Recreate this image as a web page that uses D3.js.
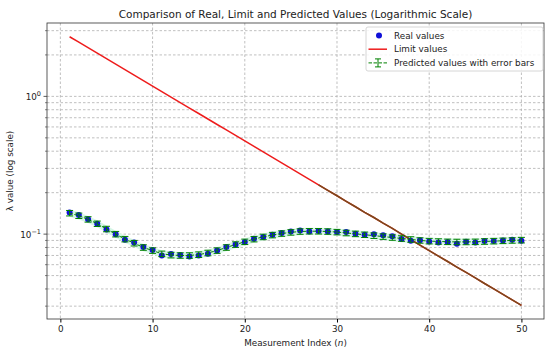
<!DOCTYPE html>
<html>
<head>
<meta charset="utf-8">
<script src="https://cdn.jsdelivr.net/npm/d3@7"></script>
<style>
  body { margin: 0; background: #fff; }
  svg text { font-family: "DejaVu Sans", sans-serif; fill: #222; }
</style>
</head>
<body>
<div id="chart"></div>
<script>
// measurement index n
var indices = d3.range(1, 51);

// real values
var realValues = [0.1438, 0.1377, 0.128, 0.119, 0.108, 0.100, 0.091, 0.087, 0.0805, 0.0767,
  0.070, 0.0717, 0.0705, 0.0689, 0.070, 0.0721, 0.0762, 0.0805, 0.0841, 0.0876,
  0.0926, 0.0952, 0.099, 0.102, 0.1047, 0.1064, 0.1047, 0.1053, 0.1047, 0.1035,
  0.1035, 0.1006, 0.099, 0.100, 0.0981, 0.0964, 0.0921, 0.0894, 0.0904, 0.0884,
  0.0870, 0.0876, 0.0853, 0.0880, 0.0870, 0.0890, 0.0890, 0.0900, 0.0910, 0.0894];

// limit values (straight line on log scale)
var limitValues = [2.71, 2.473, 2.256, 2.059, 1.878, 1.714, 1.564, 1.427, 1.302, 1.188,
  1.084, 0.989, 0.902, 0.823, 0.751, 0.685, 0.625, 0.571, 0.521, 0.475,
  0.433, 0.395, 0.361, 0.329, 0.300, 0.274, 0.250, 0.228, 0.208, 0.190,
  0.173, 0.158, 0.144, 0.132, 0.120, 0.110, 0.100, 0.0913, 0.0833, 0.0760,
  0.0693, 0.0633, 0.0577, 0.0527, 0.0481, 0.0438, 0.0400, 0.0365, 0.0333, 0.0304];

// predicted values and their errors
var predValues = [0.142, 0.136, 0.128, 0.119, 0.109, 0.100, 0.092, 0.086, 0.080, 0.076,
  0.072, 0.0705, 0.0700, 0.0700, 0.0710, 0.0730, 0.0760, 0.0800, 0.0840, 0.0880,
  0.0920, 0.0955, 0.0985, 0.101, 0.103, 0.1045, 0.105, 0.105, 0.1045, 0.1035,
  0.102, 0.1005, 0.099, 0.0975, 0.096, 0.0945, 0.093, 0.0915, 0.090, 0.089,
  0.0885, 0.088, 0.0878, 0.0878, 0.088, 0.0885, 0.089, 0.0895, 0.090, 0.0905];
var predErrors = [0.0065, 0.0062, 0.0058, 0.0054, 0.005, 0.0046, 0.0042, 0.004, 0.0037, 0.0035,
  0.0033, 0.0033, 0.0032, 0.0032, 0.0033, 0.0034, 0.0035, 0.0037, 0.0039, 0.004,
  0.0042, 0.0044, 0.0045, 0.0046, 0.0047, 0.0048, 0.0048, 0.0048, 0.0048, 0.0047,
  0.0047, 0.0046, 0.0045, 0.0045, 0.0044, 0.0043, 0.0043, 0.0042, 0.0041, 0.0041,
  0.004, 0.004, 0.004, 0.004, 0.004, 0.0041, 0.0041, 0.0041, 0.0041, 0.0042];

var xTicks = [0, 10, 20, 30, 40, 50];
var yMajor = [1, 0.1];
var yMinor = [0.03, 0.04, 0.05, 0.06, 0.07, 0.08, 0.09, 0.2, 0.3, 0.4, 0.5, 0.6, 0.7, 0.8, 0.9, 2, 3];
var brownFrom = 27; // index where the limit line turns brown

var W = 550, H = 354;
var margin = {top: 23, right: 6, bottom: 35, left: 47};

var svg = d3.select("#chart").append("svg")
  .attr("width", W).attr("height", H);

var x = d3.scaleLinear().domain([-1.45, 52.45]).range([margin.left, W - margin.right]);
var y = d3.scaleLog().domain([0.0242, 3.41]).range([H - margin.bottom, margin.top]);

var rows = indices.map(function(n, i) {
  return {n: n, real: realValues[i], limit: limitValues[i], pred: predValues[i], err: predErrors[i]};
});

// grid
var grid = svg.append("g").attr("stroke", "#b0b0b0").attr("stroke-width", 0.8)
  .attr("stroke-dasharray", "2.5,2");
xTicks.forEach(function(t) {
  grid.append("line").attr("x1", x(t)).attr("x2", x(t))
    .attr("y1", margin.top).attr("y2", H - margin.bottom);
});
yMajor.concat(yMinor).forEach(function(t) {
  grid.append("line").attr("x1", margin.left).attr("x2", W - margin.right)
    .attr("y1", y(t)).attr("y2", y(t));
});

// prediction band
svg.append("path")
  .datum(rows)
  .attr("fill", "#d6f6e6")
  .attr("d", d3.area()
    .x(function(d) { return x(d.n); })
    .y0(function(d) { return y(d.pred - d.err * 1.3); })
    .y1(function(d) { return y(d.pred + d.err * 1.3); }));

// limit line
var line = d3.line().x(function(d) { return x(d.n); }).y(function(d) { return y(d.limit); });
svg.append("path").datum(rows)
  .attr("fill", "none").attr("stroke", "#ee1c1c").attr("stroke-width", 1.5)
  .attr("d", line);
svg.append("path").datum(rows.slice(brownFrom))
  .attr("fill", "none").attr("stroke", "#7a4a1c").attr("stroke-width", 1.5)
  .attr("d", line);

// real values
svg.selectAll("circle.real").data(rows).enter().append("circle")
  .attr("class", "real")
  .attr("cx", function(d) { return x(d.n); })
  .attr("cy", function(d) { return y(d.real); })
  .attr("r", 3)
  .attr("fill", "#1010d8");

// predicted dashed line
svg.append("path").datum(rows)
  .attr("fill", "none").attr("stroke", "#008000").attr("stroke-width", 1)
  .attr("stroke-dasharray", "3.5,1.5")
  .attr("d", d3.line().x(function(d) { return x(d.n); }).y(function(d) { return y(d.pred); }));

// error bars
var eb = svg.append("g").attr("stroke", "#008000").attr("stroke-width", 1);
rows.forEach(function(d) {
  var cx = x(d.n), lo = y(d.pred - d.err), hi = y(d.pred + d.err);
  eb.append("line").attr("x1", cx).attr("x2", cx).attr("y1", lo).attr("y2", hi);
  eb.append("line").attr("x1", cx - 3.5).attr("x2", cx + 3.5).attr("y1", lo).attr("y2", lo);
  eb.append("line").attr("x1", cx - 3.5).attr("x2", cx + 3.5).attr("y1", hi).attr("y2", hi);
});

// frame
svg.append("rect")
  .attr("x", margin.left).attr("y", margin.top)
  .attr("width", W - margin.left - margin.right)
  .attr("height", H - margin.top - margin.bottom)
  .attr("fill", "none").attr("stroke", "#333").attr("stroke-width", 0.8);

// x axis
var xAxis = svg.append("g")
  .attr("transform", "translate(0," + (H - margin.bottom) + ")")
  .call(d3.axisBottom(x).tickValues(xTicks).tickSize(3.5).tickPadding(3));
xAxis.select(".domain").remove();
xAxis.selectAll("text").attr("font-size", 8.8).attr("fill", "#222");

// y axis
var yAxis = svg.append("g")
  .attr("transform", "translate(" + margin.left + ",0)");
yAxis.selectAll("line.major").data(yMajor).enter().append("line")
  .attr("x1", -3.5).attr("x2", 0).attr("y1", function(d) { return y(d); }).attr("y2", function(d) { return y(d); })
  .attr("stroke", "#333").attr("stroke-width", 0.8);
yAxis.selectAll("line.minor").data(yMinor).enter().append("line")
  .attr("x1", -2).attr("x2", 0).attr("y1", function(d) { return y(d); }).attr("y2", function(d) { return y(d); })
  .attr("stroke", "#333").attr("stroke-width", 0.6);
yMajor.forEach(function(t) {
  var lbl = yAxis.append("text")
    .attr("x", -6).attr("y", y(t) + 3.5)
    .attr("text-anchor", "end").attr("font-size", 8.8);
  lbl.append("tspan").text("10");
  lbl.append("tspan").attr("dy", -4).attr("font-size", 6.5).text(t === 1 ? "0" : "\u22121");
});

// labels
svg.append("text")
  .attr("x", (margin.left + W - margin.right) / 2).attr("y", 18)
  .attr("text-anchor", "middle").attr("font-size", 10.5)
  .text("Comparison of Real, Limit and Predicted Values (Logarithmic Scale)");

var xl = svg.append("text")
  .attr("x", (margin.left + W - margin.right) / 2).attr("y", 346)
  .attr("text-anchor", "middle").attr("font-size", 8.8);
xl.append("tspan").text("Measurement Index (");
xl.append("tspan").attr("font-style", "italic").text("n");
xl.append("tspan").text(")");

svg.append("text")
  .attr("transform", "translate(13," + ((margin.top + H - margin.bottom) / 2) + ") rotate(-90)")
  .attr("text-anchor", "middle").attr("font-size", 8.8)
  .text("\u03bb value (log scale)");

// legend
var lg = svg.append("g").attr("transform", "translate(366,27)");
lg.append("rect").attr("width", 177).attr("height", 44).attr("rx", 2)
  .attr("fill", "#fff").attr("fill-opacity", 0.85)
  .attr("stroke", "#cccccc").attr("stroke-width", 0.8);
var items = ["Real values", "Limit values", "Predicted values with error bars"];
items.forEach(function(label, i) {
  var cy = 8.5 + i * 13.7;
  if (i === 0) {
    lg.append("circle").attr("cx", 13).attr("cy", cy).attr("r", 3).attr("fill", "#1010d8");
  } else if (i === 1) {
    lg.append("line").attr("x1", 2.5).attr("x2", 21).attr("y1", cy).attr("y2", cy)
      .attr("stroke", "#ee1c1c").attr("stroke-width", 1.5);
  } else {
    var g = lg.append("g").attr("stroke", "#008000").attr("stroke-width", 1);
    g.append("line").attr("x1", 2.5).attr("x2", 21).attr("y1", cy).attr("y2", cy)
      .attr("stroke-dasharray", "3.5,1.5");
    g.append("line").attr("x1", 12).attr("x2", 12).attr("y1", cy - 4).attr("y2", cy + 4);
    g.append("line").attr("x1", 9).attr("x2", 15).attr("y1", cy - 4).attr("y2", cy - 4);
    g.append("line").attr("x1", 9).attr("x2", 15).attr("y1", cy + 4).attr("y2", cy + 4);
  }
  lg.append("text").attr("x", 28).attr("y", cy + 3.2).attr("font-size", 8.8).text(label);
});
</script>
</body>
</html>
